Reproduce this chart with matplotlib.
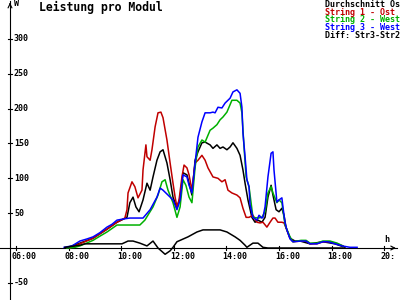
import matplotlib
matplotlib.use("Agg")
import matplotlib.pyplot as plt

# ---- data (hours, W) ----
t_avg = [7.90, 8.43, 8.93, 9.46, 9.84, 10.22, 10.33, 10.45, 10.56, 10.68, 10.83, 10.98, 11.10, 11.21,
         11.36, 11.48, 11.59, 11.74, 11.86, 11.97, 12.12, 12.24, 12.35, 12.50, 12.58, 12.69, 12.81,
         12.92, 13.07, 13.19, 13.38, 13.49, 13.64, 13.76, 13.87, 14.02, 14.14, 14.25, 14.40, 14.52,
         14.63, 14.71, 14.82, 14.97, 15.09, 15.20, 15.35, 15.47, 15.58, 15.70, 15.77, 15.89, 16.00,
         16.11, 16.19, 16.27, 16.42, 16.61, 16.80, 17.18, 17.67, 18.13, 18.51]
v_avg = [0, 7, 14, 27, 37, 44, 65, 73, 59, 52, 69, 93, 83, 102,
         126, 138, 141, 122, 98, 73, 57, 73, 108, 105, 93, 76, 126,
         138, 151, 152, 148, 143, 148, 143, 145, 141, 145, 151, 143, 133,
         112, 93, 69, 44, 37, 40, 37, 44, 73, 90, 76, 55, 52,
         57, 47, 29, 14, 10, 10, 6, 9, 6, 1]

t_s1 = [8.05, 8.43, 8.93, 9.46, 9.84, 10.14, 10.22, 10.26, 10.41, 10.52, 10.64, 10.79, 10.83, 10.94,
        10.98, 11.10, 11.17, 11.29, 11.40, 11.51, 11.59, 11.74, 11.86, 11.97, 12.05, 12.12, 12.20,
        12.31, 12.39, 12.50, 12.58, 12.69, 12.81, 12.92, 13.07, 13.19, 13.30, 13.49, 13.68, 13.83,
        13.95, 14.06, 14.21, 14.40, 14.52, 14.63, 14.75, 14.86, 15.01, 15.16, 15.28, 15.39, 15.54,
        15.66, 15.77, 15.85, 15.96, 16.11, 16.19, 16.30, 16.42, 16.53, 16.84, 17.03, 17.18, 17.44,
        17.67, 17.94, 18.21, 18.43]
v_s1 = [0, 6, 14, 27, 37, 43, 55, 79, 95, 88, 72, 83, 112, 148,
        131, 126, 141, 174, 194, 195, 187, 155, 122, 93, 73, 59, 69,
        102, 119, 115, 105, 83, 122, 126, 133, 126, 115, 102, 100, 95,
        98, 83, 79, 76, 72, 57, 44, 44, 47, 37, 36, 37, 30,
        37, 43, 43, 37, 37, 36, 26, 14, 9, 10, 10, 6, 6,
        9, 9, 6, 3]

t_s2 = [7.94, 8.24, 8.43, 8.93, 9.19, 9.46, 9.84, 10.07, 10.71, 10.90, 11.21, 11.40, 11.55, 11.67,
        11.78, 11.97, 12.12, 12.24, 12.35, 12.46, 12.58, 12.69, 12.81, 12.92, 13.07, 13.19, 13.38,
        13.49, 13.64, 13.76, 13.87, 14.02, 14.21, 14.40, 14.52, 14.59, 14.67, 14.75, 14.86, 15.01,
        15.20, 15.35, 15.47, 15.58, 15.70, 15.77, 15.92, 16.00, 16.11, 16.23, 16.42, 16.53, 16.84,
        17.03, 17.18, 17.44, 17.67, 17.94, 18.21, 18.43]
v_s2 = [0, 1, 3, 11, 17, 23, 33, 33, 33, 40, 59, 76, 95, 98,
        83, 65, 44, 59, 98, 90, 73, 65, 116, 145, 155, 152, 169,
        172, 177, 184, 188, 195, 212, 212, 208, 194, 145, 102, 88, 44,
        43, 44, 52, 79, 88, 79, 65, 69, 65, 33, 16, 9, 11,
        11, 7, 7, 10, 10, 7, 3]

t_s3 = [7.83, 8.13, 8.43, 8.70, 8.93, 9.19, 9.46, 9.65, 9.84, 10.14, 10.33, 10.83, 11.10, 11.36,
        11.48, 11.59, 11.78, 11.97, 12.12, 12.24, 12.35, 12.50, 12.58, 12.69, 12.81, 12.92, 13.07,
        13.19, 13.38, 13.49, 13.57, 13.68, 13.83, 13.95, 14.14, 14.25, 14.40, 14.52, 14.59, 14.63,
        14.71, 14.78, 14.86, 14.90, 15.01, 15.16, 15.24, 15.35, 15.39, 15.47, 15.58, 15.70, 15.77,
        15.81, 15.92, 16.00, 16.11, 16.15, 16.23, 16.30, 16.42, 16.53, 16.84, 17.03, 17.18, 17.44,
        17.67, 17.86, 18.13, 18.40, 18.70, 18.97]
v_s3 = [1, 3, 10, 13, 16, 22, 30, 34, 40, 42, 43, 43, 55, 73,
        86, 83, 76, 69, 55, 69, 105, 102, 90, 79, 122, 159, 181,
        194, 194, 195, 194, 202, 201, 208, 215, 224, 227, 222, 202, 165,
        131, 98, 88, 62, 44, 40, 47, 43, 44, 59, 102, 136, 138,
        112, 66, 69, 72, 59, 36, 26, 13, 9, 10, 10, 6, 6,
        9, 9, 6, 3, 1, 1]

t_diff = [7.86, 8.43, 8.62, 10.03, 10.26, 10.45, 10.71, 10.98, 11.21, 11.40, 11.67, 11.86, 11.97,
          12.12, 12.54, 12.88, 13.11, 13.76, 14.02, 14.33, 14.52, 14.71, 14.78, 15.01, 15.20, 15.39,
          15.58, 18.43]
v_diff = [1, 4, 6, 6, 10, 10, 7, 3, 10, 0, -9, -4, 1,
          9, 16, 23, 26, 26, 23, 16, 11, 4, 1, 7, 7, 1,
          0, 0]

x_ticks = [6, 8, 10, 12, 14, 16, 18, 20]
x_tick_labels = ["06:00", "08:00", "10:00", "12:00", "14:00", "16:00", "18:00", "20:"]
y_ticks = [-50, 50, 100, 150, 200, 250, 300]
y_tick_labels = ["-50", "50", "100", "150", "200", "250", "300"]

legend_labels = ["Durchschnitt Os", "String 1 - Ost", "String 2 - West", "String 3 - West", "Diff: Str3-Str2"]
legend_colors = ["black", "#c00000", "#00b000", "#0000ff", "black"]

# ---- figure ----
fig = plt.figure(figsize=(4, 3), dpi=100)
ax = fig.add_axes([0, 0, 1, 1])
X0, X1 = 5.392, 20.601
Y0, Y1 = -74.6, 355.9
YAX = 5.772
ax.set_xlim(X0, X1)
ax.set_ylim(Y0, Y1)
ax.axis("off")

mono = "DejaVu Sans Mono"
small = dict(fontsize=6, family=mono, fontweight="bold")
axis_kw = dict(color="black", lw=0.8)
ax.plot([X0, X1 - 0.1], [0, 0], **axis_kw)
ax.plot([YAX, YAX], [Y0, Y1 - 2], **axis_kw)
ax.annotate("", xy=(X1 - 0.05, 0), xytext=(X1 - 0.4, 0),
            arrowprops=dict(arrowstyle="->", lw=0.8, color="black", mutation_scale=7))
ax.annotate("", xy=(YAX, Y1), xytext=(YAX, Y1 - 10),
            arrowprops=dict(arrowstyle="->", lw=0.8, color="black", mutation_scale=7))

# ticks
for xt, lab in zip(x_ticks, x_tick_labels):
    ax.plot([xt, xt], [-3, 3], color="black", lw=0.8)
    ax.annotate(lab, (xt, 0), xytext=(-4, -4), textcoords="offset pixels",
                ha="left", va="top", **small)
for yt, lab in zip(y_ticks, y_tick_labels):
    ax.plot([YAX - 0.08, YAX + 0.08], [yt, yt], color="black", lw=0.8)
    ax.annotate(lab, (YAX, yt), xytext=(4, 0), textcoords="offset pixels",
                ha="left", va="center", **small)

ax.text(16.5 / 400, 1 - 3 / 300, "W", transform=ax.transAxes, ha="center", va="center", **small)
ax.text(386.5 / 400, 1 - 239.5 / 300, "h", transform=ax.transAxes, ha="center", va="center", **small)
ax.text(39 / 400, 1 - 7.5 / 300, "Leistung pro Modul", transform=ax.transAxes, ha="left",
        va="center", fontsize=8.3, family=mono, fontweight="bold")

# data
lw = 1.1
ax.plot(t_avg, v_avg, color="black", lw=lw)
ax.plot(t_s1, v_s1, color="#c00000", lw=lw)
ax.plot(t_s2, v_s2, color="#00b000", lw=lw)
ax.plot(t_s3, v_s3, color="#0000ff", lw=lw)
ax.plot(t_diff, v_diff, color="black", lw=lw)

# legend
for i, (lab, col) in enumerate(zip(legend_labels, legend_colors)):
    ax.text(325 / 400, 1 - (4.5 + 7.7 * i) / 300, lab, transform=ax.transAxes, ha="left",
            va="center", color=col, **small)

fig.savefig("out.png", dpi=100)
